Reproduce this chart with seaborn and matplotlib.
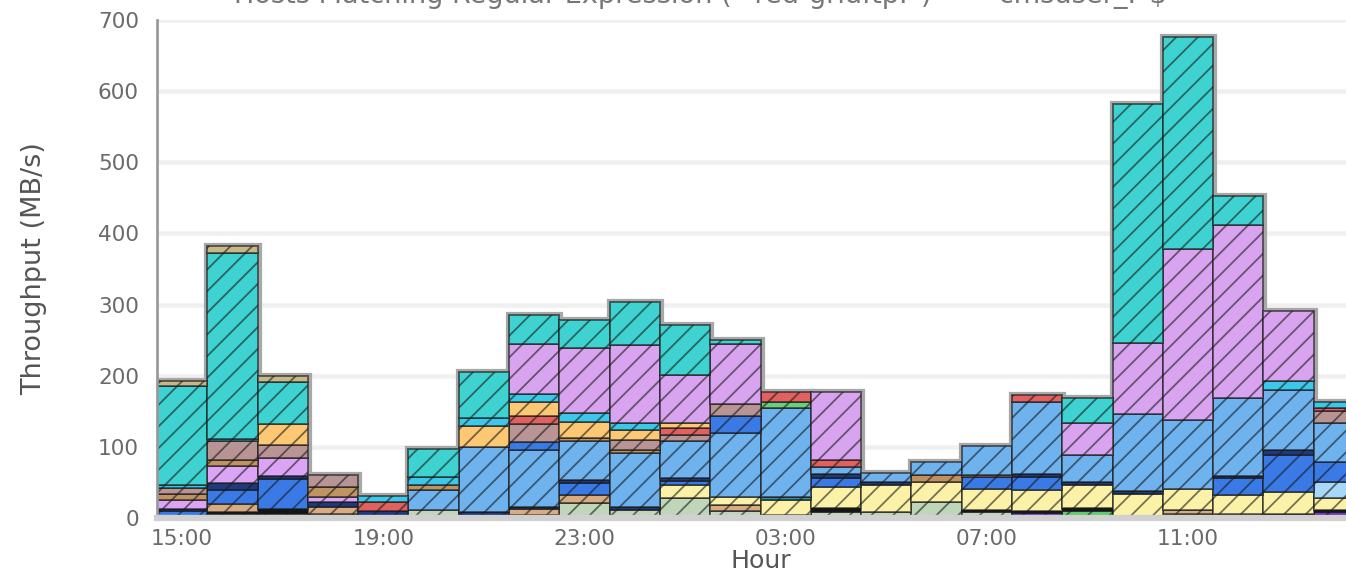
import numpy as np
import pandas as pd
import matplotlib
matplotlib.use('Agg')
import matplotlib.pyplot as plt
import seaborn as sns

# hour bins (one bar per hour, 15:00 -> 14:00)
hours = ['15:00', '16:00', '17:00', '18:00', '19:00', '20:00', '21:00', '22:00',
         '23:00', '00:00', '01:00', '02:00', '03:00', '04:00', '05:00', '06:00',
         '07:00', '08:00', '09:00', '10:00', '11:00', '12:00', '13:00', '14:00']
tick_hours = ['15:00', '19:00', '23:00', '03:00', '07:00', '11:00']

# throughput per host group (MB/s), stacked bottom -> top
G   = [0, 6, 6, 5, 0, 11, 0, 4, 21, 11, 28, 10, 0, 9, 8, 22, 8, 0, 0, 0, 0, 0, 0, 0]
GR  = [0, 0, 0, 0, 0, 0, 0, 0, 0, 0, 0, 0, 0, 0, 0, 0, 0, 0, 10, 0, 6, 0, 0, 0]
P   = [0, 0, 0, 0, 0, 0, 0, 0, 0, 0, 0, 0, 0, 0, 0, 0, 0, 7, 0, 0, 0, 0, 0, 8]
BK  = [0, 2, 7, 0, 0, 0, 0, 0, 0, 0, 0, 0, 4, 5, 0, 0, 3, 3, 4, 0, 0, 0, 5, 3]
TN  = [0, 11, 0, 10, 0, 0, 0, 8, 12, 0, 0, 8, 0, 0, 0, 0, 0, 0, 0, 0, 5, 6, 0, 0]
Y   = [0, 0, 0, 0, 0, 0, 0, 0, 0, 0, 18, 11, 22, 30, 38, 28, 30, 29, 32, 34, 30, 26, 32, 17]
DT  = [0, 0, 0, 0, 0, 0, 0, 0, 0, 0, 0, 0, 4, 0, 0, 0, 0, 0, 0, 0, 0, 0, 0, 0]
PB  = [0, 0, 0, 0, 0, 0, 0, 0, 0, 0, 0, 0, 0, 0, 0, 0, 0, 0, 0, 0, 0, 0, 0, 23]
B   = [10, 21, 42, 0, 0, 0, 0, 0, 16, 0, 6, 0, 0, 12, 0, 0, 16, 18, 0, 0, 0, 24, 52, 28]
N   = [3, 9, 4, 8, 10, 0, 8, 4, 4, 5, 4, 0, 0, 6, 4, 0, 0, 5, 5, 4, 0, 3, 7, 0]
V2  = [12, 24, 26, 7, 0, 0, 0, 0, 0, 0, 0, 0, 0, 0, 0, 0, 0, 0, 0, 0, 0, 0, 0, 0]
BR2 = [0, 0, 0, 0, 0, 0, 0, 0, 0, 0, 0, 0, 0, 0, 0, 10, 4, 0, 0, 0, 0, 0, 0, 0]
LB  = [0, 0, 0, 0, 0, 28, 92, 80, 55, 75, 52, 90, 125, 10, 13, 19, 40, 101, 38, 108, 97, 110, 84, 55]
B2  = [0, 0, 0, 0, 0, 0, 0, 11, 0, 0, 0, 24, 0, 0, 0, 0, 0, 0, 0, 0, 0, 0, 0, 0]
GL  = [0, 0, 0, 0, 0, 0, 0, 0, 0, 0, 0, 0, 8, 0, 0, 0, 0, 0, 0, 0, 0, 0, 0, 0]
BR  = [9, 9, 0, 14, 0, 8, 0, 0, 5, 5, 0, 0, 0, 0, 0, 0, 0, 0, 0, 0, 0, 0, 0, 0]
M   = [8, 26, 17, 16, 0, 0, 0, 25, 0, 14, 9, 17, 0, 0, 0, 0, 0, 0, 0, 0, 0, 0, 0, 17]
R   = [0, 0, 0, 0, 13, 0, 0, 12, 0, 0, 9, 0, 14, 9, 0, 0, 0, 10, 0, 0, 0, 0, 0, 4]
O   = [0, 0, 30, 0, 0, 0, 30, 19, 22, 14, 7, 0, 0, 0, 0, 0, 0, 0, 0, 0, 0, 0, 0, 0]
C   = [4, 3, 0, 0, 8, 10, 11, 12, 12, 9, 0, 0, 0, 0, 0, 0, 0, 0, 0, 0, 0, 0, 13, 8]
V   = [0, 0, 0, 0, 0, 0, 0, 70, 92, 110, 68, 85, 0, 96, 0, 0, 0, 0, 44, 100, 240, 243, 98, 0]
T   = [139, 262, 59, 0, 0, 40, 64, 40, 39, 61, 70, 5, 0, 0, 0, 0, 0, 0, 36, 336, 298, 41, 0, 0]
K   = [8, 9, 9, 0, 0, 0, 0, 0, 0, 0, 0, 0, 0, 0, 0, 0, 0, 0, 0, 0, 0, 0, 0, 0]

series = {'G': G, 'GR': GR, 'P': P, 'BK': BK, 'TN': TN, 'Y': Y, 'DT': DT, 'PB': PB,
          'B': B, 'N': N, 'V2': V2, 'BR2': BR2, 'LB': LB, 'B2': B2, 'GL': GL, 'BR': BR,
          'M': M, 'R': R, 'O': O, 'C': C, 'V': V, 'T': T, 'K': K}

colors = {'G': '#bfd6b8', 'GR': '#5ccc6c', 'P': '#6a35c0', 'BK': '#151515',
          'TN': '#d8ac80', 'Y': '#fbf2a8', 'DT': '#2e8fa0', 'PB': '#a8d8f8',
          'B': '#3a7ae6', 'N': '#1e3a7a', 'V2': '#dca4f4', 'BR2': '#c09060',
          'LB': '#6eb2ee', 'B2': '#3a7ae6', 'GL': '#68d078', 'BR': '#c09460',
          'M': '#b89494', 'R': '#e26060', 'O': '#fcc874', 'C': '#3cc8e8',
          'V': '#d8a4f0', 'T': '#3ed3d0', 'K': '#c8b888'}

rows = []
for cat, vals in series.items():
    for i, v in enumerate(vals):
        rows.append({'hour': i, 'cat': cat, 'mbps': v})
df = pd.DataFrame(rows)
totals = pd.DataFrame({'hour': range(len(hours)),
                       'mbps': np.sum([series[c] for c in series], axis=0)})

sns.set_style('white')
plt.rcParams['font.family'] = ['DejaVu Sans']

fig = plt.figure(figsize=(1346 / 130, 572 / 130), dpi=130)
ax = fig.add_axes([157 / 1346, 54 / 572, 1207 / 1346, 498 / 572])

# grey halo around every stack
sns.histplot(data=totals, x='hour', weights='mbps', discrete=True, shrink=1,
             element='bars', fill=False, color='#a8a8a8', linewidth=4,
             ax=ax, zorder=1)

order = list(series.keys())[::-1]  # seaborn puts the first hue level on top
sns.histplot(data=df, x='hour', weights='mbps', hue='cat', hue_order=order,
             palette=colors, multiple='stack', discrete=True, shrink=1,
             element='bars', alpha=1, hatch='//', edgecolor=(0.1, 0.1, 0.1, 0.6),
             linewidth=1.1, legend=False, ax=ax, zorder=2)

for p in list(ax.patches):
    if p.get_height() == 0:
        p.remove()

ax.set_xlim(-0.5, 23.5)
ax.set_ylim(0, 700)
ax.set_yticks(range(0, 701, 100))
ax.set_yticks(range(50, 700, 100), minor=True)
ax.set_xticks([hours.index(h) for h in tick_hours])
ax.set_xticklabels(tick_hours)
ax.grid(axis='y', color='#f0f0f0', linewidth=2.5)
ax.set_axisbelow(True)

for s in ['top', 'right']:
    ax.spines[s].set_visible(False)
ax.spines['left'].set_color('#999999')
ax.spines['left'].set_linewidth(1.5)
ax.spines['bottom'].set_color('#d0d0d0')
ax.spines['bottom'].set_linewidth(3.5)

ax.tick_params(axis='y', which='major', direction='in', length=7, width=1,
               color='#999999', labelsize=12, labelcolor='#6a6a6a', pad=10)
ax.tick_params(axis='y', which='minor', direction='in', length=4, width=1,
               color='#999999')
ax.tick_params(axis='x', length=0, labelsize=12, labelcolor='#6a6a6a', pad=6)

ax.set_xlabel('Hour', fontsize=14, color='#555555', labelpad=0)
ax.set_ylabel('Throughput (MB/s)', fontsize=15, color='#555555', labelpad=28)

fig.text(0.52, 1 - 3 / 572, 'Hosts Matching Regular Expression (^red-gridftp.*) \u2014 ^cmsuser_.*$',
         ha='center', va='baseline', fontsize=15, color='#777777')

fig.savefig('out.png', dpi=130)
